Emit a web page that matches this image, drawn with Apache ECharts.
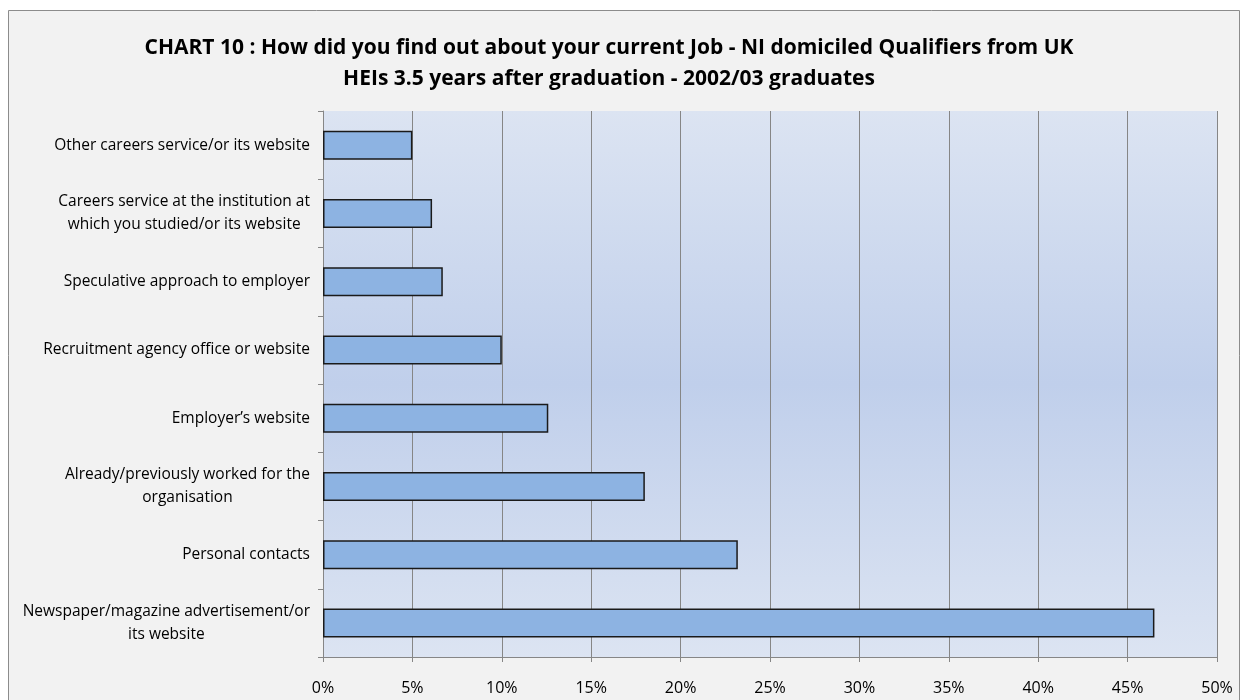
<!DOCTYPE html>
<html>
<head>
<meta charset="utf-8">
<script src="https://cdn.jsdelivr.net/npm/echarts@6/dist/echarts.min.js"></script>
<style>
  html, body { margin: 0; padding: 0; background: #ffffff; }
  #chart { width: 1242px; height: 700px; }
</style>
</head>
<body>
<div id="chart"></div>
<script>
// categories listed bottom to top (category axis starts at the bottom)
const categories = [
  'Newspaper/magazine advertisement/or\nits website',
  'Personal contacts',
  'Already/previously worked for the\norganisation',
  'Employer\u2019s website',
  'Recruitment agency office or website',
  'Speculative approach to employer',
  'Careers service at the institution at\nwhich you studied/or its website',
  'Other careers service/or its website'
];
const shares = [46.5, 23.2, 18.0, 12.6, 10.0, 6.7, 6.1, 5.0];

const titleText = 'CHART 10 : How did you find out about your current Job - NI domiciled Qualifiers from UK\nHEIs 3.5 years after graduation - 2002/03 graduates';
const fontFamily = '"Open Sans", "Liberation Sans", sans-serif';

let myChart = echarts.init(document.getElementById('chart'));

let option = {
  backgroundColor: '#ffffff',
  animation: false,
  graphic: [
    {
      type: 'rect',
      z: -10,
      shape: {x: 8.5, y: 10.5, width: 1231, height: 700},
      style: {fill: '#f2f2f2', stroke: '#8c8c8c', lineWidth: 1}
    }
  ],
  title: {
    text: titleText,
    left: 604,
    textAlign: 'center',
    top: 28,
    textStyle: {
      fontFamily: fontFamily,
      fontSize: 21,
      fontWeight: 'bold',
      color: '#000000',
      lineHeight: 31
    }
  },
  grid: {
    left: 323,
    right: 25,
    top: 111,
    bottom: 43,
    show: true,
    borderWidth: 0,
    backgroundColor: {
      type: 'linear', x: 0, y: 0, x2: 0, y2: 1,
      colorStops: [
        {offset: 0, color: '#dce4f2'},
        {offset: 0.5, color: '#c0cfeb'},
        {offset: 1, color: '#dce4f2'}
      ]
    }
  },
  xAxis: {
    type: 'value',
    min: 0,
    max: 50,
    interval: 5,
    axisLine: {show: true, lineStyle: {color: '#868686', width: 1}},
    axisTick: {show: true, length: 5, lineStyle: {color: '#868686'}},
    splitLine: {show: true, lineStyle: {color: '#868686', width: 1}},
    axisLabel: {
      formatter: '{value}%',
      color: '#000000',
      fontFamily: fontFamily,
      fontSize: 16,
      margin: 23
    }
  },
  yAxis: {
    type: 'category',
    data: categories,
    axisLine: {show: true, lineStyle: {color: '#868686', width: 1}},
    axisTick: {show: true, length: 5, lineStyle: {color: '#868686'}},
    splitLine: {show: false},
    axisLabel: {
      margin: 13,
      color: '#000000',
      fontFamily: fontFamily,
      fontSize: 15.5,
      formatter: function (v) { return '{a|' + v + '}'; },
      rich: {
        a: {
          align: 'center',
          color: '#000000',
          fontFamily: fontFamily,
          fontSize: 15.5,
          lineHeight: 23
        }
      }
    }
  },
  series: [
    {
      name: 'Share',
      type: 'bar',
      data: shares,
      barWidth: 29,
      itemStyle: {
        color: '#8db3e2',
        borderColor: '#1a1a1a',
        borderWidth: 1.5
      }
    }
  ]
};

myChart.setOption(option);
</script>
</body>
</html>
